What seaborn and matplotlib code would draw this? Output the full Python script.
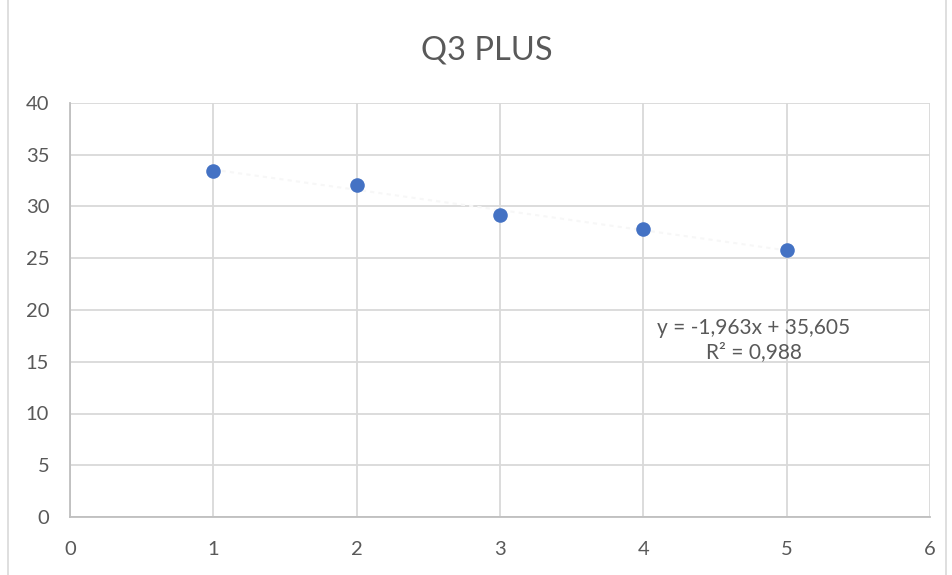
import numpy as np
import pandas as pd
import seaborn as sns
import matplotlib.pyplot as plt
from matplotlib.patches import Rectangle

# Data
x_vals = [1, 2, 3, 4, 5]
y_vals = [33.4, 32.1, 29.2, 27.8, 25.8]
title = "Q3 PLUS"
eq_text = "y = -1,963x + 35,605\nR\u00b2 = 0,988"

df = pd.DataFrame({"x": x_vals, "y": y_vals})

sns.set_style("white")
plt.rcParams['font.family'] = ['Lato', 'DejaVu Sans']

fig = plt.figure(figsize=(9.53, 5.75), dpi=100)
ax = fig.add_axes([70 / 953, 1 - 517 / 575, 860 / 953, 414 / 575])

# faint trendline, barely visible in the original
slope, intercept = np.polyfit(x_vals, y_vals, 1)
xs = np.array([x_vals[0], x_vals[-1]])
ax.plot(xs, slope * xs + intercept, color='#f7f7f7', lw=1.5, ls=(0, (2, 2)), zorder=1)

sns.scatterplot(data=df, x="x", y="y", ax=ax, color='#4472C4', s=110,
                edgecolor='#4472C4', linewidth=0, zorder=3)

ax.set_xlim(0, 6)
ax.set_ylim(0, 40)
ax.set_xticks(range(0, 7))
ax.set_yticks(range(0, 41, 5))
ax.grid(True, color='#d9d9d9', lw=1.3)
ax.set_axisbelow(True)
ax.set_xlabel("")
ax.set_ylabel("")
for s in ['top', 'right']:
    ax.spines[s].set_visible(False)
for s in ['left', 'bottom']:
    ax.spines[s].set_color('#bfbfbf')
    ax.spines[s].set_linewidth(1.3)
ax.tick_params(axis='both', length=0, labelsize=14.5, labelcolor='#595959')
ax.tick_params(axis='y', pad=15)
ax.tick_params(axis='x', pad=17)

ax.text(4.77, 17.1, eq_text, ha='center', va='center', fontsize=15,
        color='#595959', linespacing=1.3)

fig.text(487 / 953, 1 - 50 / 575, title, ha='center', va='center',
         fontsize=23.5, color='#595959')

fig.patches.append(Rectangle((8 / 953, -0.01), 938 / 953, 1.02, transform=fig.transFigure,
                             fill=False, edgecolor='#d9d9d9', lw=1.2))

fig.savefig("out.png", dpi=100)
